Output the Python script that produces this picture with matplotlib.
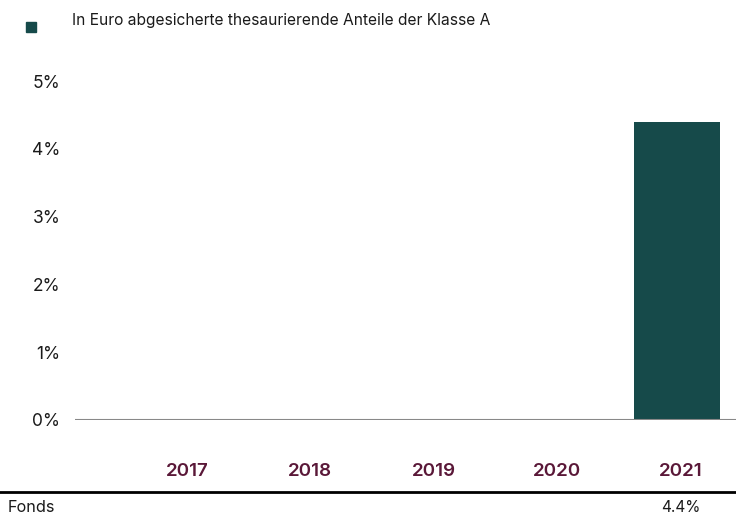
import matplotlib
matplotlib.use("Agg")
import matplotlib.pyplot as plt
from matplotlib.lines import Line2D
from matplotlib.patches import Rectangle

years = ["2017", "2018", "2019", "2020", "2021"]
values = [None, None, None, None, 4.4]
value_labels = ["", "", "", "", "4.4%"]
series_name = "In Euro abgesicherte thesaurierende Anteile der Klasse A"
row_label = "Fonds"
yticks = [0, 1, 2, 3, 4, 5]

bar_color = "#164a4a"
year_color = "#5a1838"
plt.rcParams['font.family'] = ['Inter', 'DejaVu Sans']

W, H = 736, 519
fig = plt.figure(figsize=(W / 100, H / 100), dpi=100)
# axes: x from 75 to 736 px, y: 0 at 420px, 5 at 81px
ax_left = 75 / W
ax_right = 1.0
y0 = 420
y5 = 81
ax = fig.add_axes([ax_left, 1 - y0 / H, ax_right - ax_left, (y0 - y5 + 10) / H])
ymax = 5 + 10 / ((y0 - y5) / 5)
ax.set_ylim(0, ymax)
ax.set_xlim(-0.908, 4.45)

xs = list(range(len(years)))
for x, v in zip(xs, values):
    if v is not None:
        ax.bar(x - 0.03, v, width=0.7, color=bar_color, zorder=2)

for s in ax.spines.values():
    s.set_visible(False)
ax.axhline(0, color="#888888", lw=1.5, zorder=3)
ax.set_yticks(yticks)
ax.set_yticklabels([f"{t}%" for t in yticks], fontsize=12.5, color="#1a1a1a")
ax.tick_params(axis='y', length=0, pad=10.5)
ax.set_xticks([])

# year labels
for x, y in zip(xs, years):
    ax.annotate(y, xy=(x, 0), xycoords=('data', 'axes fraction'),
                xytext=(0, -51), textcoords='offset pixels',
                ha='center', va='center', fontsize=13.5, fontweight='semibold',
                color=year_color)

# table row
fig.add_artist(Line2D([0, 1], [1 - 492 / H, 1 - 492 / H], color="black", lw=2))
fig.text(8 / W, 1 - 508 / H, row_label, ha='left', va='center', fontsize=11.7, color="#1a1a1a")
for x, lab in zip(xs, value_labels):
    if lab:
        ax.annotate(lab, xy=(x, 0), xycoords=('data', 'axes fraction'),
                    xytext=(0, -88), textcoords='offset pixels',
                    ha='center', va='center', fontsize=11, color="#1a1a1a")

# legend
fig.add_artist(Rectangle((26 / W, 1 - 32 / H), 10 / W, 10 / H, color=bar_color,
                         transform=fig.transFigure))
fig.text(72 / W, 1 - 21 / H, series_name, ha='left', va='center', fontsize=11.2,
         color="#1a1a1a")

fig.savefig("out.png", dpi=100)
